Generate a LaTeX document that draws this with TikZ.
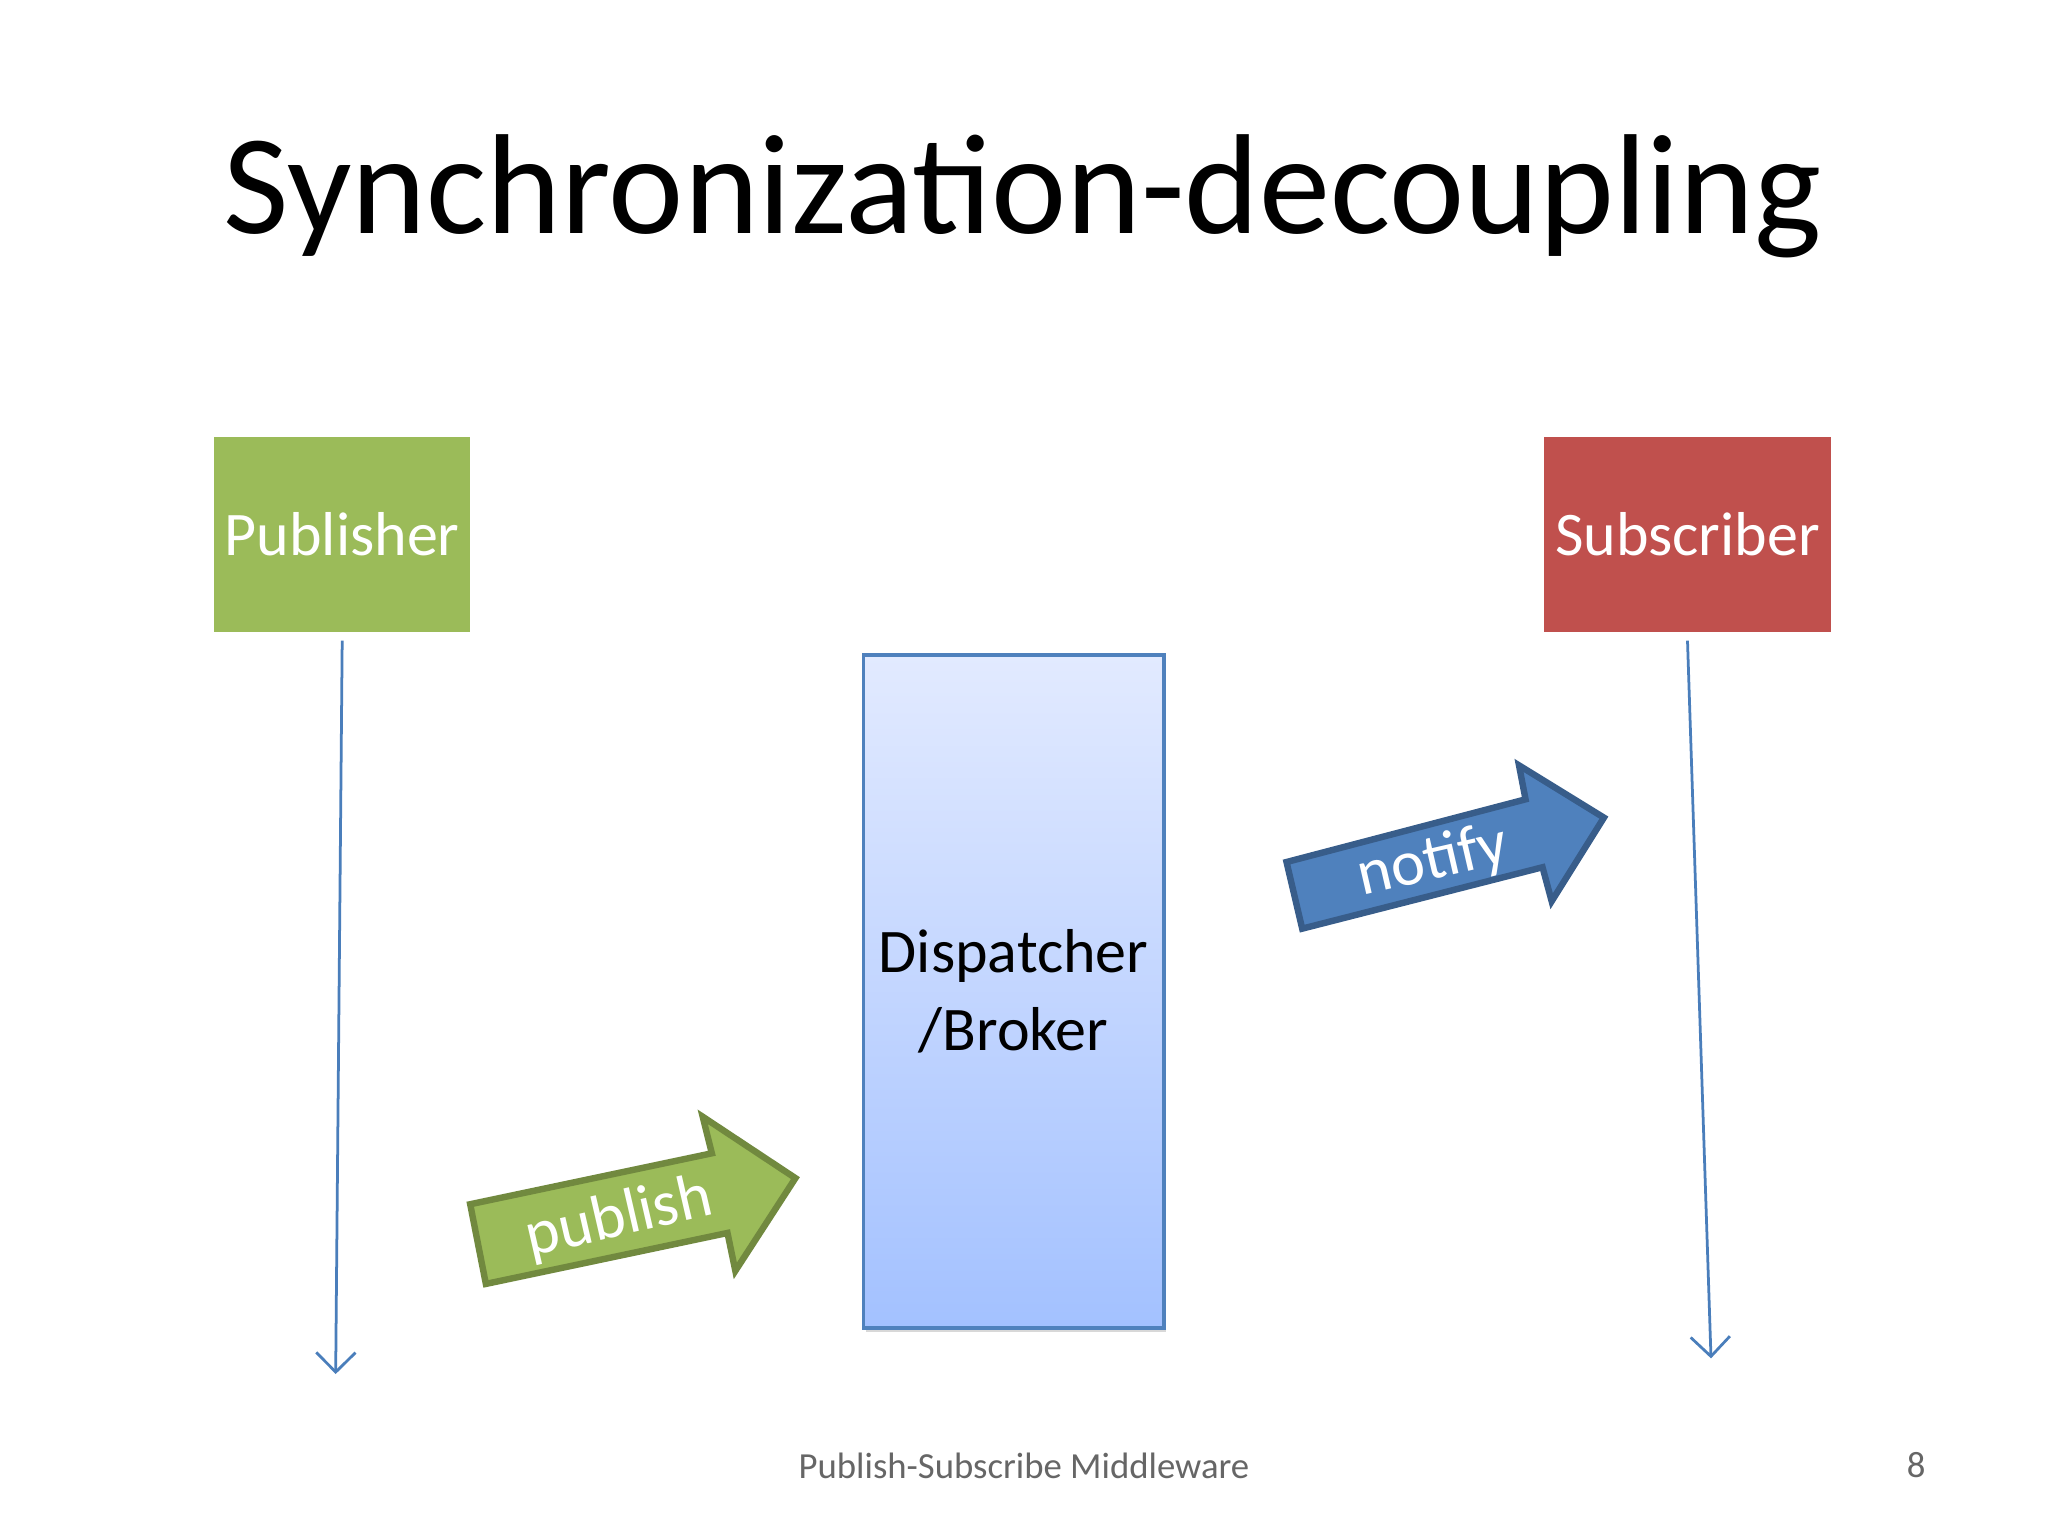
\documentclass[tikz,border=0pt]{standalone}
\usepackage{fontspec}
\setmainfont{Carlito}
\usetikzlibrary{shadows,arrows.meta}
\definecolor{pubgreen}{HTML}{9BBB59}
\definecolor{pubgreenD}{HTML}{71893F}
\definecolor{subred}{HTML}{C0504D}
\definecolor{accblue}{HTML}{4F81BD}
\definecolor{accblueD}{HTML}{385D8A}
\definecolor{lineblue}{HTML}{4A7EBB}
\tikzset{
  actor/.style={line width=0.07cm, draw=white, minimum width=1.82cm, minimum height=1.56cm,
    text=white, font=\fontsize{13.5pt}{16pt}\selectfont,
    drop shadow={shadow xshift=0.02cm, shadow yshift=-0.03cm, opacity=0.35}},
  life/.style={draw=lineblue, line width=0.6pt, -{Straight Barb[length=0.15cm,width=0.3cm]}},
  bigarrow/.style={line width=1.4pt, line join=miter},
  arrowtext/.style={text=white, font=\fontsize{14pt}{16pt}\selectfont, rotate=13}
}
\begin{document}
\begin{tikzpicture}[x=0.01cm,y=-0.01cm]
\useasboundingbox[fill=white] (0,0) rectangle (1568,1176);
\node (title) at (783,150) {\fontsize{31pt}{36pt}\selectfont Synchronization-decoupling};
\node[actor, fill=pubgreen] (pub) at (262,409) {Publisher};
\node[actor, fill=subred, minimum width=2.08cm] (sub) at (1292,409) {Subscriber};
\node[draw=accblue, line width=0.8pt, minimum width=2.05cm, minimum height=5.15cm,
  top color={rgb,255:red,226;green,234;blue,255}, bottom color={rgb,255:red,163;green,193;blue,255},
  align=center, font=\fontsize{13.5pt}{17pt}\selectfont,
  drop shadow={shadow xshift=0.02cm, shadow yshift=-0.03cm, opacity=0.3}] (broker) at (776,759)
  {Dispatcher\\/Broker};
\coordinate (pubend) at (257,1052);
\coordinate (subend) at (1310,1040);
\draw[life] (pub.south) -- (pubend);
\draw[life] (sub.south) -- (subend);
\draw[bigarrow, fill=pubgreen, draw=pubgreenD] (360,922) -- (545,883) -- (538,855) -- (609,902) -- (563,973) -- (557,944) -- (372,983) -- cycle;
\node[arrowtext] (publish) at (474,933) {publish};
\draw[bigarrow, fill=accblue, draw=accblueD] (985,660) -- (1168,612) -- (1163,586) -- (1228,626) -- (1188,690) -- (1181,664) -- (997,711) -- cycle;
\node[arrowtext] (notify) at (1097,660) {notify};
\node[text=black!60, font=\fontsize{8pt}{10pt}\selectfont] (foot) at (784,1122) {Publish-Subscribe Middleware};
\node[text=black!60, font=\fontsize{8pt}{10pt}\selectfont] (num) at (1467,1122) {8};
\end{tikzpicture}
\end{document}
